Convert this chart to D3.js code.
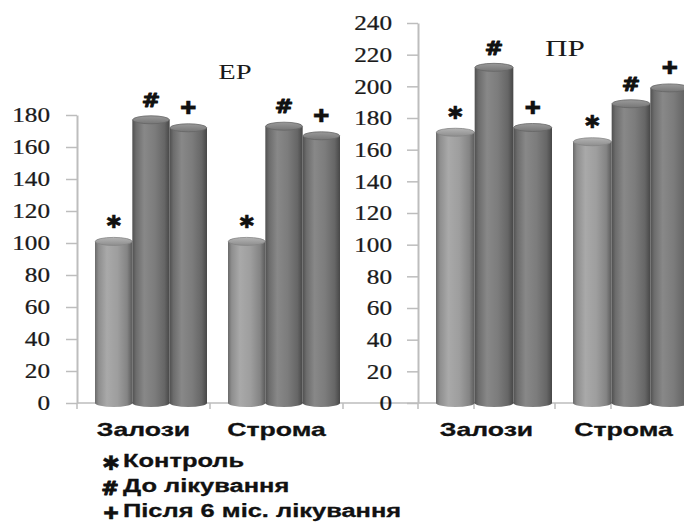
<!DOCTYPE html>
<html>
<head>
<meta charset="utf-8">
<script src="https://cdn.jsdelivr.net/npm/d3@7"></script>
<style>
  html, body { margin: 0; padding: 0; background: #fff; }
  svg { display: block; }
</style>
</head>
<body>
<svg id="chart" width="684" height="522"></svg>
<script>
// Categories, series and values
const categories = ["Залози", "Строма"];
const seriesNames = ["Контроль", "До лікування", "Після 6 міс. лікування"];
const seriesMarks = ["✱", "#", "✚"];

// ЕР panel
const erControl = [101, 101];
const erBefore = [177, 173];
const erAfter = [172, 167];
const erTicks = [0, 20, 40, 60, 80, 100, 120, 140, 160, 180];

// ПР panel
const prControl = [171, 165];
const prBefore = [212, 189];
const prAfter = [174, 199];
const prTicks = [0, 20, 40, 60, 80, 100, 120, 140, 160, 180, 200, 220, 240];

const panelTitles = ["ЕР", "ПР"];

const svg = d3.select("#chart");
const AXIS = "#bdbdbd";

// ---- gradients for the cylinders ----
const defs = svg.append("defs");
function hGrad(id, stops) {
  const g = defs.append("linearGradient").attr("id", id)
    .attr("x1", "0%").attr("x2", "100%").attr("y1", "0%").attr("y2", "0%");
  stops.forEach(([o, c]) => g.append("stop").attr("offset", o).attr("stop-color", c));
}
function vGrad(id, stops) {
  const g = defs.append("linearGradient").attr("id", id)
    .attr("x1", "0%").attr("x2", "0%").attr("y1", "0%").attr("y2", "100%");
  stops.forEach(([o, c]) => g.append("stop").attr("offset", o).attr("stop-color", c));
}
hGrad("bodyLight", [["0%", "#6a6a6a"], ["10%", "#8e8e8e"], ["32%", "#a9a9a9"], ["60%", "#9e9e9e"], ["86%", "#848484"], ["100%", "#5a5a5a"]]);
hGrad("bodyDark", [["0%", "#505050"], ["10%", "#6c6c6c"], ["32%", "#888888"], ["60%", "#7c7c7c"], ["86%", "#666666"], ["100%", "#474747"]]);
vGrad("topLight", [["0%", "#b4b4b4"], ["100%", "#8e8e8e"]]);
vGrad("topDark", [["0%", "#9a9a9a"], ["100%", "#767676"]]);

// text drawn with a horizontal stretch around its anchor point
function stretchedText(parent, x, y, str, o) {
  const t = parent.append("text")
    .attr("transform", `translate(${x},${y}) scale(${o.sx || 1},1)`)
    .attr("text-anchor", o.anchor || "start")
    .attr("dy", o.dy || 0)
    .style("font-family", o.family)
    .style("font-size", o.size + "px")
    .style("font-weight", o.weight || "normal")
    .style("fill", o.fill || "#111")
    .text(str);
  if (o.stroke) t.style("stroke", o.fill || "#111").style("stroke-width", o.stroke).style("stroke-linejoin", "round");
  return t;
}

const SERIF = "'Liberation Serif', 'Times New Roman', serif";
const SANS = "'Liberation Sans', Arial, sans-serif";
const DEJAVU = "'DejaVu Sans', sans-serif";

// styles of the significance marks
function markStyle(m, legend) {
  if (m === "✚") return { anchor: "middle", dy: "0.36em", family: DEJAVU, size: legend ? 17 : 18, sx: 1.1, weight: "bold", stroke: 0.3 };
  if (m === "#") return { anchor: "middle", dy: "0.36em", family: DEJAVU, size: legend ? 19 : 20, sx: 1.1, weight: "bold", stroke: 1 };
  return { anchor: "middle", dy: "0.36em", family: DEJAVU, size: legend ? 20 : 18, sx: 1.1, weight: "bold", stroke: 0.3 };
}

function drawPanel(cfg) {
  const g = svg.append("g");
  const y = d3.scaleLinear().domain([0, d3.max(cfg.ticks)]).range([cfg.bottom, cfg.top]);
  const x0 = d3.scaleBand().domain(categories).range([cfg.left, cfg.left + cfg.catW * categories.length]);
  const x1 = d3.scaleBand().domain(seriesNames).range([cfg.groupPad, cfg.groupPad + cfg.groupW]);

  // x axis line (extends left to join the neighbouring panel)
  g.append("line")
    .attr("x1", cfg.lineStart).attr("x2", x0.range()[1])
    .attr("y1", y(0)).attr("y2", y(0))
    .attr("stroke", AXIS).attr("stroke-width", 1.5);
  const bounds = [x0.range()[0]].concat(categories.map(c => x0(c) + x0.bandwidth()));
  bounds.forEach(b => {
    g.append("line").attr("x1", b).attr("x2", b).attr("y1", y(0)).attr("y2", y(0) + 6)
      .attr("stroke", AXIS).attr("stroke-width", 1.5);
  });
  if (cfg.depthTicks) {
    categories.forEach(c => {
      const b = x0(c) + cfg.depthTicks;
      g.append("line").attr("x1", b).attr("x2", b).attr("y1", y(0)).attr("y2", y(0) + 6)
        .attr("stroke", AXIS).attr("stroke-width", 1.5);
    });
  }

  // y axis lines
  const yAxis = d3.axisLeft(y).tickValues(cfg.ticks).tickSize(11).tickSizeOuter(0).tickFormat("");
  const ga = g.append("g").attr("transform", `translate(${cfg.left},0)`).call(yAxis);
  ga.select(".domain").attr("stroke", AXIS).attr("stroke-width", 2);
  ga.selectAll(".tick line").attr("stroke", AXIS).attr("stroke-width", 1.5);

  // y tick labels
  cfg.ticks.forEach(t => {
    stretchedText(g, cfg.left - cfg.labelGap, y(t), String(t),
      { anchor: "end", dy: "0.35em", family: SERIF, size: 21, sx: 1.2, fill: "#1a1a1a", stroke: 0.25 });
  });

  // cylinders
  const series = [cfg.control, cfg.before, cfg.after];
  categories.forEach((c, ci) => {
    seriesNames.forEach((s, si) => {
      const v = series[si][ci];
      const bx = x0(c) + x1(s);
      const bw = x1.bandwidth();
      const cx = bx + bw / 2;
      const ry = 4;
      const light = si === 0;
      const body = light ? "url(#bodyLight)" : "url(#bodyDark)";
      const top = light ? "url(#topLight)" : "url(#topDark)";
      const bar = g.append("g");
      bar.append("ellipse").attr("cx", cx).attr("cy", y(0)).attr("rx", bw / 2).attr("ry", ry)
        .attr("fill", body);
      bar.append("rect").attr("x", bx).attr("y", y(v)).attr("width", bw).attr("height", y(0) - y(v))
        .attr("fill", body);
      bar.append("ellipse").attr("cx", cx).attr("cy", y(v)).attr("rx", bw / 2 - 0.3).attr("ry", ry)
        .attr("fill", top).attr("stroke", light ? "#858585" : "#666").attr("stroke-width", 0.8);
      // significance mark above the bar
      stretchedText(g, cx, y(v) - 20, seriesMarks[si], markStyle(seriesMarks[si], false));
    });
    // category label
    stretchedText(g, x0(c) + x0.bandwidth() / 2, cfg.catLabelY, c,
      { anchor: "middle", family: SANS, size: 19, sx: 1.4, weight: "bold", fill: "#111", stroke: 0.3 });
  });

  // panel title
  stretchedText(g, cfg.titleX, cfg.titleY, cfg.title,
    { anchor: "middle", family: SERIF, size: cfg.titleSize, sx: 1.3, fill: "#1a1a1a" });
}

drawPanel({
  control: erControl, before: erBefore, after: erAfter, ticks: erTicks,
  top: 115, bottom: 403, left: 77, catW: 133, groupPad: 18, groupW: 112,
  lineStart: 77, labelGap: 27, catLabelY: 436,
  title: panelTitles[0], titleX: 235, titleY: 79, titleSize: 22
});

drawPanel({
  control: prControl, before: prBefore, after: prAfter, ticks: prTicks,
  top: 23, bottom: 403, left: 418, catW: 137, groupPad: 18, groupW: 116,
  lineStart: 343, labelGap: 26, catLabelY: 436, depthTicks: 56,
  title: panelTitles[1], titleX: 565, titleY: 56, titleSize: 24
});

// legend
const legend = svg.append("g");
const legendY = [467, 492, 517];
const legendMarkX = [111, 110, 111];
seriesNames.forEach((s, i) => {
  stretchedText(legend, legendMarkX[i], legendY[i] - 4, seriesMarks[i], markStyle(seriesMarks[i], true));
  stretchedText(legend, 123, legendY[i], s,
    { anchor: "start", family: SANS, size: 19, sx: 1.34, weight: "bold", fill: "#111", stroke: 0.3 });
});
</script>
</body>
</html>
